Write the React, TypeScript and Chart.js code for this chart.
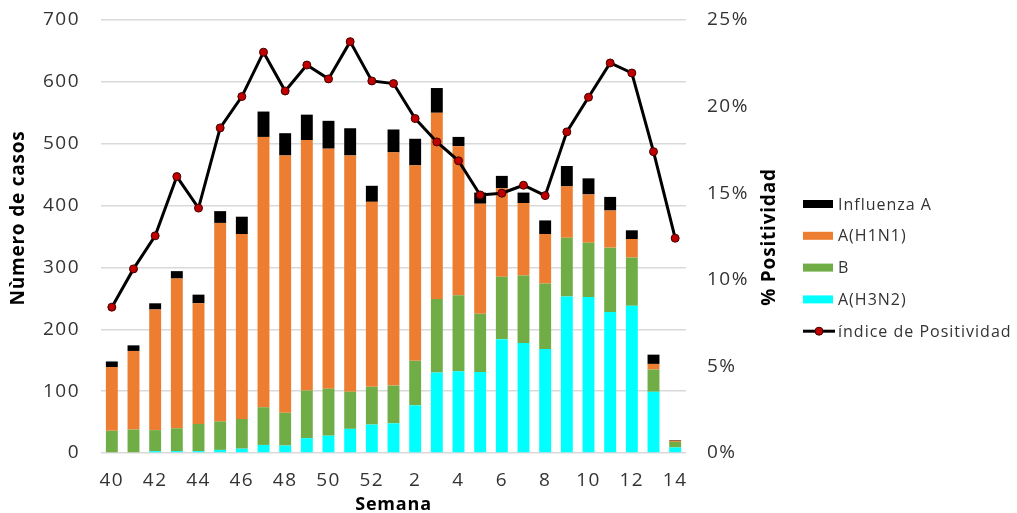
import React, { useEffect, useRef } from 'react';
import { Chart, registerables } from 'chart.js';

Chart.register(...registerables);

const weeks = ['40', '41', '42', '43', '44', '45', '46', '47', '48', '49', '50', '51', '52', '1', '2', '3', '4', '5', '6', '7', '8', '9', '10', '11', '12', '13', '14'];
const h3n2 = [0, 0, 3, 3, 3, 5, 7, 13, 12, 24, 28, 39, 46, 48, 77, 130, 132, 131, 184, 178, 168, 253, 252, 228, 238, 99, 9];
const fluB = [36, 38, 34, 37, 44, 46, 48, 61, 53, 77, 76, 60, 61, 61, 72, 119, 123, 94, 101, 109, 106, 95, 88, 104, 78, 36, 9];
const h1n1 = [103, 127, 195, 242, 195, 321, 299, 437, 416, 405, 388, 382, 299, 377, 316, 301, 241, 178, 143, 117, 80, 83, 78, 60, 30, 9, 2];
const influenzaA = [9, 9, 10, 12, 14, 19, 28, 41, 36, 41, 45, 44, 26, 37, 43, 40, 15, 18, 20, 17, 22, 33, 26, 22, 14, 15, 1];
const positivity = [8.42, 10.63, 12.54, 15.96, 14.14, 18.77, 20.58, 23.14, 20.9, 22.4, 21.6, 23.75, 21.48, 21.33, 19.31, 17.96, 16.87, 14.9, 15.0, 15.46, 14.86, 18.54, 20.54, 22.52, 21.94, 17.4, 12.4];

const leftTitle = 'Nùmero de casos';
const rightTitle = '% Positividad';
const bottomTitle = 'Semana';

const FONT = '"Open Sans", "DejaVu Sans", sans-serif';
const TEXT = '#333333';

const legendItems = [
  { label: 'Influenza A', color: '#000000', kind: 'bar' },
  { label: 'A(H1N1)', color: '#ED7D31', kind: 'bar' },
  { label: 'B', color: '#70AD47', kind: 'bar' },
  { label: 'A(H3N2)', color: '#00FFFF', kind: 'bar' },
  { label: 'índice de Positividad', color: '#C00000', kind: 'line' },
];

const spacingPlugin = {
  id: 'spacing',
  beforeDraw(chart: any) {
    (chart.ctx as any).letterSpacing = '1.5px';
  },
};

const overlayPlugin = {
  id: 'overlay',
  afterDraw(chart: any) {
    const { ctx, chartArea } = chart;
    ctx.save();
    ctx.fillStyle = '#000';
    ctx.textAlign = 'center';
    ctx.textBaseline = 'middle';
    (ctx as any).letterSpacing = '0.8px';

    // left axis title
    ctx.save();
    ctx.font = `bold 19px ${FONT}`;
    ctx.translate(18.5, 218);
    ctx.rotate(-Math.PI / 2);
    ctx.fillText(leftTitle, 0, 0);
    ctx.restore();

    // right axis title
    ctx.save();
    ctx.font = `bold 19px ${FONT}`;
    ctx.translate(chartArea.right + 84, 237);
    ctx.rotate(-Math.PI / 2);
    ctx.fillText(rightTitle, 0, 0);
    ctx.restore();

    // bottom title
    ctx.font = `bold 18px ${FONT}`;
    ctx.fillText(bottomTitle, (chartArea.left + chartArea.right) / 2, 505);

    // legend
    const lx = chartArea.right + 117;
    const ly0 = 204;
    const step = 31.8;
    ctx.textAlign = 'left';
    ctx.font = `16px ${FONT}`;
    (ctx as any).letterSpacing = '1px';
    legendItems.forEach((it, i) => {
      const y = ly0 + i * step;
      if (it.kind === 'bar') {
        ctx.fillStyle = it.color;
        ctx.fillRect(lx, y - 4, 30, 8);
      } else {
        ctx.strokeStyle = '#000';
        ctx.lineWidth = 3;
        ctx.beginPath();
        ctx.moveTo(lx, y);
        ctx.lineTo(lx + 32, y);
        ctx.stroke();
        ctx.beginPath();
        ctx.arc(lx + 16, y, 4, 0, Math.PI * 2);
        ctx.fillStyle = it.color;
        ctx.fill();
        ctx.lineWidth = 1;
        ctx.strokeStyle = '#400000';
        ctx.stroke();
      }
      ctx.fillStyle = TEXT;
      ctx.fillText(it.label, lx + 35, y + 1);
    });
    ctx.restore();
    (ctx as any).letterSpacing = '0px';
  },
};

export default function App() {
  const ref = useRef<HTMLCanvasElement>(null);
  useEffect(() => {
    if (!ref.current) return;
    const chart = new Chart(ref.current, {
      type: 'bar',
      data: {
        labels: weeks,
        datasets: [
          { type: 'line', label: 'índice de Positividad', data: positivity, yAxisID: 'y1', borderColor: '#000', borderWidth: 3, pointRadius: 4, pointBackgroundColor: '#C00000', pointBorderColor: '#400000', pointBorderWidth: 1, tension: 0, order: 0 } as any,
          { label: 'A(H3N2)', data: h3n2, backgroundColor: '#00FFFF', stack: 's', order: 1 },
          { label: 'B', data: fluB, backgroundColor: '#70AD47', stack: 's', order: 1 },
          { label: 'A(H1N1)', data: h1n1, backgroundColor: '#ED7D31', stack: 's', order: 1 },
          { label: 'Influenza A', data: influenzaA, backgroundColor: '#000000', stack: 's', order: 1 },
        ],
      },
      options: {
        animation: false,
        responsive: true,
        maintainAspectRatio: false,
        layout: { padding: { top: 20, left: 0, right: 0, bottom: 0 } },
        datasets: { bar: { barPercentage: 0.55, categoryPercentage: 1.0 } },
        plugins: { legend: { display: false }, tooltip: { enabled: false } },
        scales: {
          x: {
            stacked: true,
            grid: { display: false },
            border: { display: false },
            ticks: {
              autoSkip: false,
              maxRotation: 0,
              padding: 8,
              color: TEXT,
              font: { family: FONT, size: 19 },
              callback: (_v: any, i: number) => (i % 2 === 0 ? weeks[i] : ''),
            },
            afterFit: (s: any) => { s.height = 60; s.paddingLeft = 0; s.paddingRight = 0; },
          },
          y: {
            stacked: true,
            min: 0,
            max: 700,
            position: 'left',
            grid: { color: '#d9d9d9', lineWidth: 1.5, drawTicks: false },
            border: { display: false },
            ticks: { stepSize: 100, padding: 21, color: TEXT, font: { family: FONT, size: 19 } },
            afterFit: (s: any) => { s.width = 101; s.paddingTop = 0; s.paddingBottom = 0; },
          },
          y1: {
            min: 0,
            max: 25,
            position: 'right',
            grid: { display: false, drawTicks: false },
            border: { display: false },
            ticks: { stepSize: 5, padding: 21, color: TEXT, font: { family: FONT, size: 19 }, callback: (v: any) => `${v}%` },
            afterFit: (s: any) => { s.width = 331; s.paddingTop = 0; s.paddingBottom = 0; },
          },
        },
      },
      plugins: [spacingPlugin, overlayPlugin],
    });
    return () => chart.destroy();
  }, []);
  return (
    <div style={{ position: 'absolute', left: 0, top: 0, width: 1017, height: 513, background: '#fff' }}>
      <canvas ref={ref} />
    </div>
  );
}
